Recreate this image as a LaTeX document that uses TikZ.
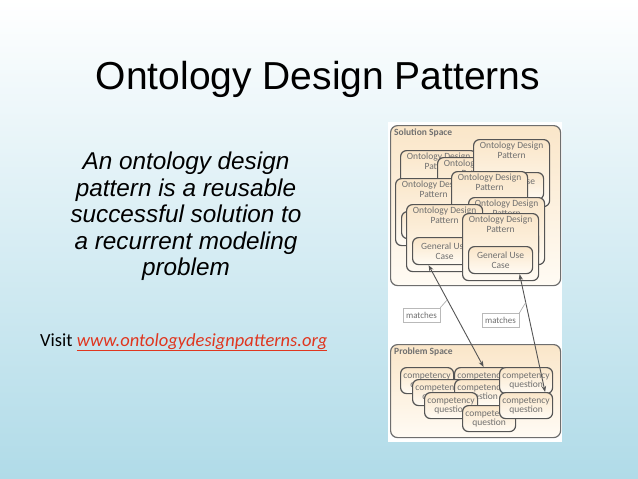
\documentclass[tikz,border=0pt]{standalone}
\usepackage{fontspec}
\setmainfont{Liberation Sans}
\newfontfamily\carl{Carlito}
\usetikzlibrary{arrows.meta,calc}
\definecolor{bgA}{HTML}{B0DBE8}
\definecolor{cream}{HTML}{FAE6C9}
\definecolor{creamlt}{HTML}{FFFBF4}
\definecolor{edge}{HTML}{555555}
\definecolor{lbl}{HTML}{707070}
\definecolor{urlred}{HTML}{E0361F}
\tikzset{
  space/.style={draw=edge!85, line width=1.2pt, rounded corners=7pt, top color=cream, bottom color=creamlt, anchor=north west, inner sep=0pt},
  odp/.style={draw=edge, line width=1.2pt, rounded corners=6pt, top color=cream, bottom color=creamlt, minimum width=76pt, minimum height=67pt, anchor=north west, inner sep=0pt},
  ttl/.style={font=\carl\fontsize{9.5}{9.5}\selectfont, text=lbl, align=center, anchor=north, inner sep=0pt},
  guc/.style={draw=edge, line width=1.2pt, rounded corners=6pt, top color=cream, bottom color=creamlt, minimum width=64pt, minimum height=27pt, anchor=north, inner sep=0pt, font=\carl\fontsize{9.5}{9.5}\selectfont, text=lbl, align=center},
  cq/.style={draw=edge, line width=1.2pt, rounded corners=6pt, top color=cream, bottom color=creamlt, minimum width=53pt, minimum height=26pt, anchor=north west, inner sep=0pt, font=\carl\fontsize{9.5}{9.5}\selectfont, text=lbl, align=center},
  spl/.style={font=\carl\bfseries\fontsize{9.5}{10}\selectfont, text=lbl, anchor=north west, inner sep=0pt},
  note/.style={draw=gray!55, fill=white, line width=0.6pt, font=\carl\fontsize{9}{9}\selectfont, text=lbl, inner xsep=3pt, inner ysep=2pt, minimum height=14pt},
  arr/.style={draw=edge, line width=0.9pt, {Stealth[length=6pt,width=4.5pt]}-{Stealth[length=6pt,width=4.5pt]}},
  lnk/.style={draw=gray!70, line width=0.6pt},
}
\newcommand\odpbox[3]{%
  \node[odp] (#1) at (#2,#3) {};
  \node[ttl] at ([yshift=-3pt]#1.north) {Ontology Design\\Pattern};
  \node[guc] (#1g) at ([yshift=-33pt]#1.north) {General Use\\Case};
}
\newcommand\cqbox[3]{\node[cq] (#1) at (#2,#3) {competency\\question};}
\begin{document}
\begin{tikzpicture}[x=1pt,y=-1pt]
  \useasboundingbox (0,0) rectangle (638,479);
  \fill[top color=white, bottom color=bgA] (0,0) rectangle (638,479);

  % titles and text
  \node[font=\fontsize{39}{39}\selectfont, anchor=base, inner sep=0pt] (title) at (318,89) {Ontology Design Patterns};
  \node[font=\itshape\fontsize{24.3}{26.5}\selectfont, align=center, anchor=north, inner sep=0pt] (def) at (186,152)
    {An ontology design\\pattern is a reusable\\successful solution to\\a recurrent modeling\\problem};
  \node[font=\carl\fontsize{18.5}{18.5}\selectfont, anchor=base west, inner sep=0pt] (visit) at (40,346)
    {Visit \textcolor{urlred}{\itshape\underline{www.ontologydesignpatterns.org}}};

  % figure backdrop
  \fill[white] (388,122) rectangle (562,442);

  % solution space
  \node[space, minimum width=170pt, minimum height=160pt] (sol) at (390,125) {};
  \node[spl] (soll) at ([xshift=4pt,yshift=-4pt]sol.north west) {Solution Space};
  \odpbox{A}{400}{150}
  \odpbox{B}{437}{157}
  \odpbox{C}{473}{139}
  \odpbox{E}{395}{178}
  \odpbox{F}{451}{171}
  \odpbox{G}{468}{197}
  \odpbox{H}{406}{204}
  \odpbox{I}{462}{213}

  % problem space
  \node[space, minimum width=170pt, minimum height=93pt] (prob) at (390,344) {};
  \node[spl] (probl) at ([xshift=4pt,yshift=-4pt]prob.north west) {Problem Space};
  \cqbox{q1}{400}{367}
  \cqbox{q2}{454}{367}
  \cqbox{q4}{412}{379}
  \cqbox{q5}{454}{379}
  \cqbox{q3}{499}{367}
  \cqbox{q6}{424}{392}
  \cqbox{q8}{462}{405}
  \cqbox{q7}{499}{392}

  % matches notes
  \node[note] (mt1) at (421.5,315) {matches};
  \node[note] (mt2) at (500.5,320.5) {matches};

  % arrows
  \draw[arr] ([xshift=-16pt]Hg.south) -- node[pos=0.34, coordinate] (m1) {} ([xshift=2.5pt]q2.north);
  \draw[arr] ([xshift=19pt]Ig.south) -- node[pos=0.24, coordinate] (m2) {} ([xshift=19pt]q7.north);
  \draw[lnk] (mt1.north east) -- (m1);
  \draw[lnk] (mt2.north east) -- (m2);
\end{tikzpicture}
\end{document}
